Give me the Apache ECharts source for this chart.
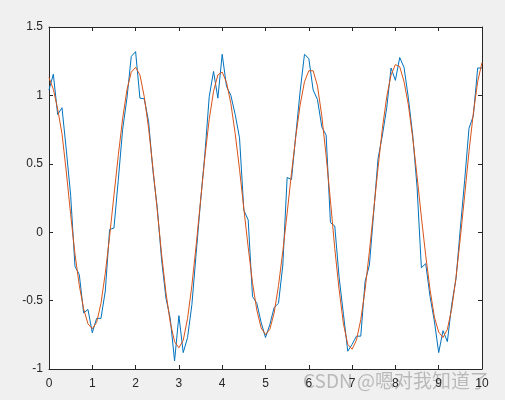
<!DOCTYPE html>
<html>
<head>
<meta charset="utf-8">
<script src="https://cdn.jsdelivr.net/npm/echarts@6/dist/echarts.min.js"></script>
<style>
html,body{margin:0;padding:0;background:#f0f0f0;}
#chart{width:505px;height:400px;}
</style>
</head>
<body>
<div id="chart"></div>
<script>
var xValues = [0,0.1,0.2,0.3,0.4,0.5,0.6,0.7,0.8,0.9,1,1.1,1.2,1.3,1.4,1.5,1.6,1.7,1.8,1.9,2,2.1,2.2,2.3,2.4,2.5,2.6,2.7,2.8,2.9,3,3.1,3.2,3.3,3.4,3.5,3.6,3.7,3.8,3.9,4,4.1,4.2,4.3,4.4,4.5,4.6,4.7,4.8,4.9,5,5.1,5.2,5.3,5.4,5.5,5.6,5.7,5.8,5.9,6,6.1,6.2,6.3,6.4,6.5,6.6,6.7,6.8,6.9,7,7.1,7.2,7.3,7.4,7.5,7.6,7.7,7.8,7.9,8,8.1,8.2,8.3,8.4,8.5,8.6,8.7,8.8,8.9,9,9.1,9.2,9.3,9.4,9.5,9.6,9.7,9.8,9.9,10];

var noisyValues = [
1.04,1.155,0.86,0.91,0.60,0.27,-0.25,-0.31,-0.59,-0.565,
-0.735,-0.63,-0.63,-0.43,0.02,0.03,0.38,0.75,0.98,1.285,
1.32,0.98,0.975,0.81,0.45,0.18,-0.20,-0.48,-0.63,-0.94,
-0.61,-0.88,-0.77,-0.53,-0.15,0.225,0.57,0.99,1.175,0.98,
1.30,1.065,1.00,0.86,0.69,0.16,0.09,-0.47,-0.52,-0.66,
-0.77,-0.675,-0.55,-0.52,-0.24,0.40,0.385,0.71,1.03,1.30,
1.27,1.04,0.97,0.77,0.71,0.07,0.045,-0.33,-0.60,-0.87,
-0.82,-0.76,-0.76,-0.36,-0.24,0.15,0.54,0.71,0.91,1.20,
1.11,1.277,1.204,0.98,0.71,0.33,-0.26,-0.23,-0.47,-0.65,
-0.88,-0.72,-0.80,-0.53,-0.34,0.03,0.38,0.76,0.85,1.20,
1.20];

var fitValues = [
1.13,1.045,0.90,0.72,0.44,0.13,-0.16,-0.39,-0.56,-0.67,
-0.705,-0.66,-0.52,-0.30,-0.03,0.27,0.56,0.83,1.04,1.17,
1.205,1.15,0.99,0.76,0.47,0.16,-0.16,-0.44,-0.66,-0.80,
-0.845,-0.79,-0.63,-0.39,-0.09,0.23,0.55,0.825,1.03,1.15,
1.17,1.095,0.94,0.72,0.46,0.17,-0.11,-0.37,-0.57,-0.70,
-0.748,-0.71,-0.59,-0.39,-0.14,0.14,0.43,0.70,0.93,1.10,
1.18,1.18,1.07,0.85,0.56,0.23,-0.12,-0.42,-0.67,-0.82,
-0.855,-0.79,-0.64,-0.42,-0.14,0.165,0.475,0.76,0.99,1.15,
1.225,1.21,1.10,0.93,0.69,0.41,0.11,-0.17,-0.42,-0.62,
-0.73,-0.77,-0.71,-0.56,-0.33,-0.04,0.27,0.59,0.87,1.10,
1.24];

var xTicks = [0,1,2,3,4,5,6,7,8,9,10];
var yTicks = [-1,-0.5,0,0.5,1,1.5];
var watermark = 'CSDN @嗯对我知道了';

function pairs(xs, ys){ var out=[]; for(var i=0;i<xs.length;i++){ out.push([xs[i], ys[i]]); } return out; }

var axisColor = '#262626';
var fontFam = '"Liberation Sans", Arial, sans-serif';

function xAxisCfg(pos, showLabel){
  return {
    type:'value', position:pos, min:xTicks[0], max:xTicks[xTicks.length-1], interval:1,
    axisLine:{show:true, onZero:false, lineStyle:{color:axisColor, width:1}},
    axisTick:{show:true, inside:true, length:4, lineStyle:{color:axisColor}},
    axisLabel:{show:showLabel, color:axisColor, fontSize:12, fontFamily:fontFam, margin:9},
    splitLine:{show:false}
  };
}
function yAxisCfg(pos, showLabel){
  return {
    type:'value', position:pos, min:yTicks[0], max:yTicks[yTicks.length-1], interval:0.5,
    axisLine:{show:true, onZero:false, lineStyle:{color:axisColor, width:1}},
    axisTick:{show:true, inside:true, length:4, lineStyle:{color:axisColor}},
    axisLabel:{show:showLabel, color:axisColor, fontSize:12, fontFamily:fontFam, margin:6},
    splitLine:{show:false}
  };
}

var chart = echarts.init(document.getElementById('chart'), null, {renderer:'canvas'});
chart.setOption({
  animation:false,
  backgroundColor:'#f0f0f0',
  grid:{left:49, right:23, top:27, bottom:31, show:true, backgroundColor:'#ffffff', borderWidth:0},
  xAxis:[xAxisCfg('bottom', true), xAxisCfg('top', false)],
  yAxis:[yAxisCfg('left', true), yAxisCfg('right', false)],
  series:[
    {type:'line', xAxisIndex:0, yAxisIndex:0, data:pairs(xValues, noisyValues), showSymbol:false, lineStyle:{color:'#0072BD', width:1}, itemStyle:{color:'#0072BD'}},
    {type:'line', xAxisIndex:0, yAxisIndex:0, data:pairs(xValues, fitValues), showSymbol:false, lineStyle:{color:'#D95319', width:1}, itemStyle:{color:'#D95319'}}
  ],
  graphic:[{
    type:'text', left:303, top:371, silent:true,
    style:{text:watermark, fontSize:19, fontFamily:'"Noto Sans CJK SC", sans-serif', fill:'rgba(110,110,110,0.42)'}
  }]
});
</script>
</body>
</html>
